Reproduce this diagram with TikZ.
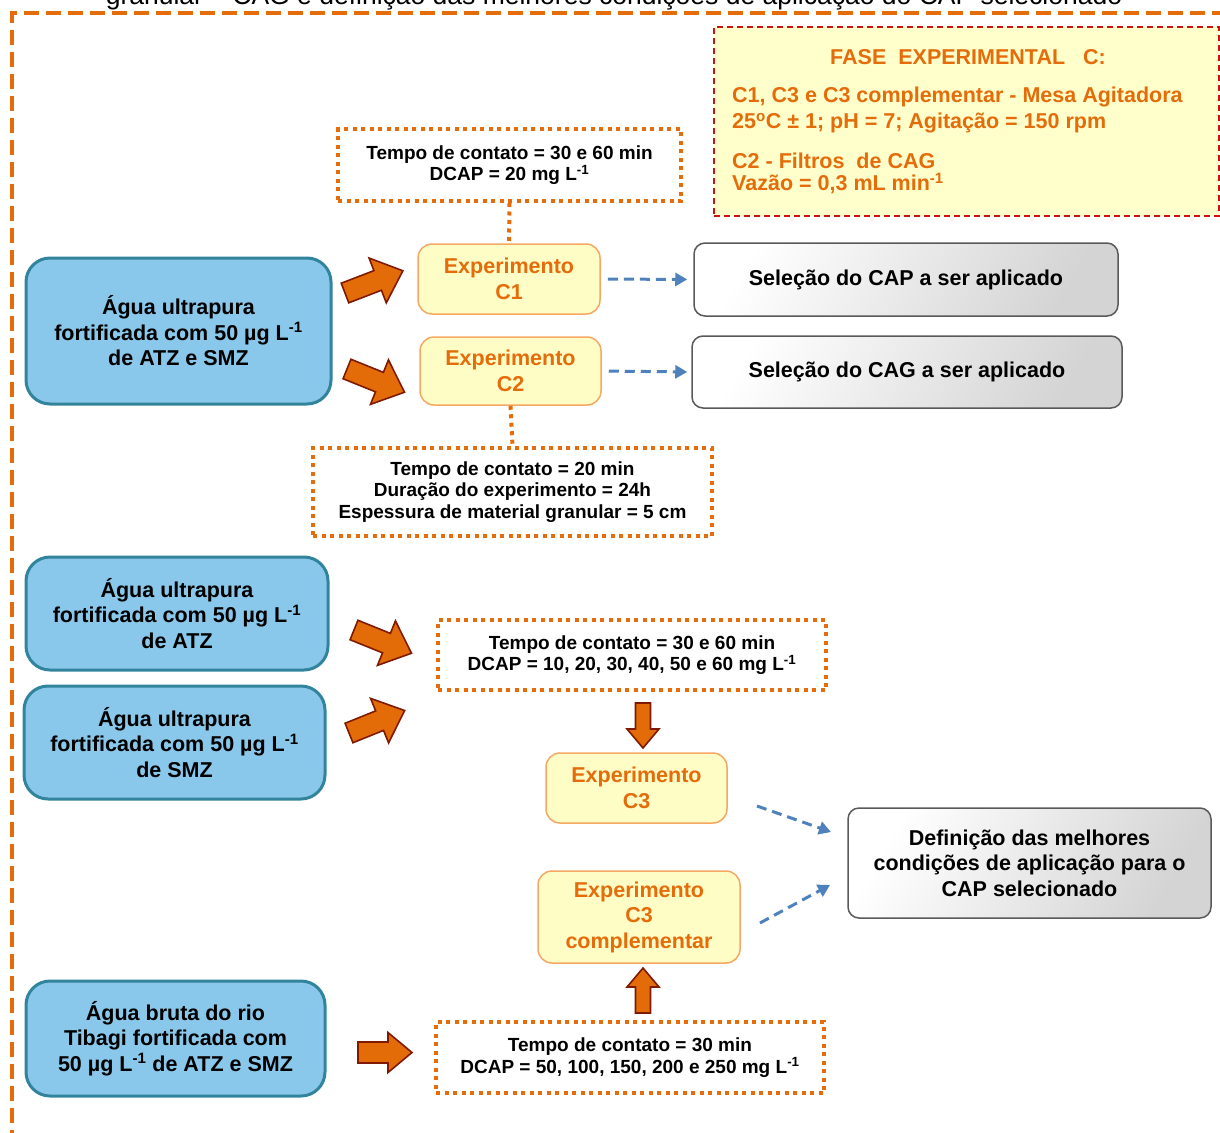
\documentclass[tikz,border=0pt]{standalone}
\usepackage{fontspec}
\setmainfont{Liberation Sans}
\usetikzlibrary{arrows.meta,calc}

\definecolor{framed}{HTML}{E46C0A}
\definecolor{orangetxt}{HTML}{E46C0A}
\definecolor{arrowfill}{HTML}{E36C09}
\definecolor{arrowline}{HTML}{7F1A00}
\definecolor{waterfill}{HTML}{89C8EA}
\definecolor{waterline}{HTML}{31849B}
\definecolor{expfill}{HTML}{FFFDC6}
\definecolor{expline}{HTML}{F6A863}
\definecolor{phasefill}{HTML}{FFFFCC}
\definecolor{phaseline}{HTML}{CC1111}
\definecolor{resline}{HTML}{595959}
\definecolor{flowblue}{HTML}{4F81BD}

\newcommand\boxfont{\fontsize{21.5}{25.5}\selectfont\bfseries}
\newcommand\notefont{\fontsize{19}{21.5}\selectfont\bfseries}
% block arrow: tail centre, angle, length, shaft half width, head half width, head length
\newcommand\blockarrow[7]{%
  \draw[barrow, shift={(#1,#2)}, rotate=#3]
    (0,-#5) -- ({#4-#7},-#5) -- ({#4-#7},-#6) -- (#4,0)
    -- ({#4-#7},#6) -- ({#4-#7},#5) -- (0,#5) -- cycle;}

\begin{document}
\begin{tikzpicture}[x=1pt,y=-1pt,
  frame/.style={draw=framed, line width=4pt, dash pattern=on 15pt off 7pt},
  water/.style={draw=waterline, fill=waterfill, line width=3pt, rounded corners=24pt,
    align=center, font=\boxfont, inner sep=0pt},
  expbox/.style={draw=expline, fill=expfill, line width=1.5pt, rounded corners=14pt,
    align=center, font=\boxfont, text=orangetxt, inner sep=0pt},
  result/.style={draw=resline, line width=1.5pt, rounded corners=11pt,
    top color=white, bottom color=black!17, shading angle=60,
    align=center, font=\boxfont, inner sep=0pt},
  note/.style={draw=framed, line width=4pt, dash pattern=on 4pt off 4.5pt,
    align=center, font=\notefont, inner sep=0pt},
  notelink/.style={draw=framed, line width=4pt, dash pattern=on 4pt off 4.5pt},
  flow/.style={draw=flowblue, line width=3pt, dash pattern=on 10pt off 6pt,
    -{Triangle[length=12pt,width=13pt]}},
  barrow/.style={draw=arrowline, fill=arrowfill, line width=1.6pt, line join=miter},
  phasetxt/.style={font=\boxfont, text=orangetxt, inner sep=0pt}
]
\useasboundingbox (0,0) rectangle (1220,1132);
\clip (0,0) rectangle (1220,1132);

% heading line running above the frame
\node[anchor=base, font=\fontsize{26.5}{30}\selectfont, inner sep=0pt] (heading) at (614,5)
  {granular – CAG e definição das melhores condições de aplicação do CAP selecionado};

% outer frame
\draw[frame] (12,1145) -- (12,13) -- (1235,13);

% phase description
\node[draw=phaseline, fill=phasefill, line width=1.5pt, dash pattern=on 6pt off 4pt,
  minimum width=505pt, minimum height=189pt, inner sep=0pt] (phase) at (966.5,121.5) {};
\node[phasetxt, anchor=base] (phasetitle) at (968,64.7) {FASE\ \ EXPERIMENTAL\ \ \ C:};
\node[phasetxt, anchor=base west] (phaseA) at (732,102.7) {C1, C3 e C3 complementar - Mesa Agitadora};
\node[phasetxt, anchor=base west] (phaseB) at (732,128.7) {25\textsuperscript{o}C ± 1; pH = 7; Agitação = 150 rpm};
\node[phasetxt, anchor=base west] (phaseC) at (732,168.7) {C2 - Filtros\ \ de CAG};
\node[phasetxt, anchor=base west] (phaseD) at (732,190.7) {Vazão = 0,3 mL min\textsuperscript{-1}};

% water samples
\node[water, minimum width=305pt, minimum height=146pt] (w1) at (178.5,331)
  {Água ultrapura\\fortificada com 50 µg L\textsuperscript{-1}\\de ATZ e SMZ};
\node[water, minimum width=302pt, minimum height=113pt] (w2) at (177,613.5)
  {Água ultrapura\\fortificada com 50 µg L\textsuperscript{-1}\\de ATZ};
\node[water, minimum width=301pt, minimum height=113pt] (w3) at (174.5,742.5)
  {Água ultrapura\\fortificada com 50 µg L\textsuperscript{-1}\\de SMZ};
\node[water, minimum width=299pt, minimum height=115pt] (w4) at (175.5,1038.5)
  {Água bruta do rio\\Tibagi fortificada com\\50 µg L\textsuperscript{-1} de ATZ e SMZ};

% experiments
\node[expbox, minimum width=182pt, minimum height=70pt] (c1) at (509,279) {Experimento\\C1};
\node[expbox, minimum width=181pt, minimum height=68pt] (c2) at (510.5,371) {Experimento\\C2};
\node[expbox, minimum width=181pt, minimum height=70pt] (c3) at (636.5,788) {Experimento\\C3};
\node[expbox, minimum width=202pt, minimum height=92pt] (c3c) at (639,917) {Experimento\\C3\\complementar};

% results
\node[result, minimum width=424pt, minimum height=73pt] (cap) at (906,279.5) {Seleção do CAP a ser aplicado};
\node[result, minimum width=430pt, minimum height=72pt] (cag) at (907,372) {Seleção do CAG a ser aplicado};
\node[result, minimum width=363pt, minimum height=110pt] (best) at (1029.5,863)
  {Definição das melhores\\condições de aplicação para o\\CAP selecionado};

% experimental conditions
\node[note, minimum width=343pt, minimum height=72pt] (n1) at (509.5,165)
  {Tempo de contato = 30 e 60 min\\DCAP = 20 mg L\textsuperscript{-1}};
\node[note, minimum width=399pt, minimum height=88pt] (n2) at (512.5,492)
  {Tempo de contato = 20 min\\Duração do experimento = 24h\\Espessura de material granular = 5 cm};
\node[note, minimum width=388pt, minimum height=70pt] (n3) at (632,655)
  {Tempo de contato = 30 e 60 min\\DCAP = 10, 20, 30, 40, 50 e 60 mg L\textsuperscript{-1}};
\node[note, minimum width=388pt, minimum height=71pt] (n4) at (630,1057.5)
  {Tempo de contato = 30 min\\DCAP = 50, 100, 150, 200 e 250 mg L\textsuperscript{-1}};

% links between conditions and experiments
\draw[notelink] (n1.south) -- (c1.north);
\draw[notelink] (c2.south) -- (n2.north);

% dashed result arrows
\draw[flow, shorten <=7pt, shorten >=6pt] (c1.east) -- (cap.west);
\draw[flow, shorten <=7pt, shorten >=4pt] (c2.east) -- (cag.west);
\coordinate (c3out) at (757,806);
\coordinate (best3in) at (831,832);
\coordinate (c3cout) at (760,923);
\coordinate (best3cin) at (830,885);
\draw[flow] (c3out) -- (best3in);
\draw[flow] (c3cout) -- (best3cin);

% block arrows
\blockarrow{345}{293}{21}{62}{10.5}{24}{27}
\blockarrow{347}{369}{-22}{62}{10.5}{24}{27}
\blockarrow{354}{630}{-22}{62}{10.5}{24}{27}
\blockarrow{349}{733}{22}{60}{10.5}{24}{27}
\blockarrow{358}{1052.5}{0}{54}{10.5}{20}{24}
\blockarrow{643}{703}{-90}{45}{7.5}{16}{19}
\blockarrow{643}{1013}{90}{45}{7.5}{16}{19}
\end{tikzpicture}
\end{document}
